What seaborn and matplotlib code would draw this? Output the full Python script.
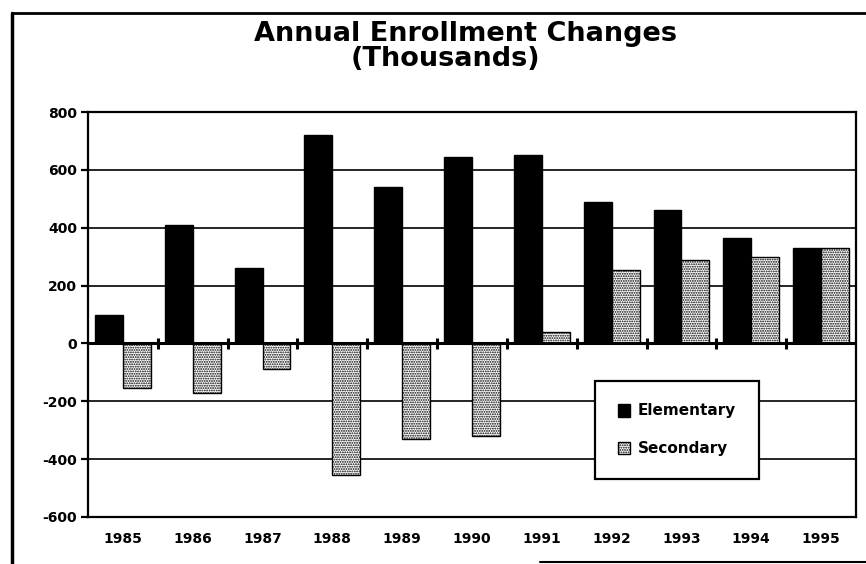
import numpy as np
import pandas as pd
import matplotlib
matplotlib.use("Agg")
import matplotlib.pyplot as plt
from matplotlib.lines import Line2D
import seaborn as sns

# data (thousands)
years = ["1985", "1986", "1987", "1988", "1989", "1990",
         "1991", "1992", "1993", "1994", "1995"]
elementary = [100, 410, 260, 720, 540, 645, 650, 490, 460, 365, 330]
secondary = [-155, -170, -90, -455, -330, -320, 40, 255, 290, 300, 330]
levels = ["Elementary", "Secondary"]
y_ticks = [-600, -400, -200, 0, 200, 400, 600, 800]

df = pd.DataFrame({
    "year": years * 2,
    "value": elementary + secondary,
    "level": [levels[0]] * len(years) + [levels[1]] * len(years),
})

sns.set_style("white")
plt.rcParams["axes.unicode_minus"] = False
plt.rcParams["hatch.linewidth"] = 0.9
plt.rcParams["hatch.color"] = "black"
plt.rcParams["text.color"] = "black"

fig = plt.figure(figsize=(8.66, 5.64), dpi=100)
ax = fig.add_axes([88 / 866, 47 / 564, 768 / 866, 405 / 564])

sns.barplot(data=df, x="year", y="value", hue="level", ax=ax,
            palette={"Elementary": "black", "Secondary": "white"},
            edgecolor="black", linewidth=1.0, width=0.8, saturation=1,
            legend=False)

# dotted fill for secondary bars
for bar in ax.containers[1]:
    bar.set_hatch(".......")

ax.set_xlim(-0.5, len(years) - 0.5)
ax.set_ylim(-600, 800)
ax.set_yticks(y_ticks)
ax.set_yticklabels([str(v) for v in y_ticks])
ax.set_axisbelow(True)
ax.yaxis.grid(True, color="black", linewidth=1.2)
ax.axhline(0, color="black", linewidth=2.2, zorder=3)

# category separators crossing the zero line
sep = np.arange(len(years)) + 0.5
ax.vlines(sep, -18, 18, color="black", linewidth=2.2, zorder=4)

for s in ax.spines.values():
    s.set_visible(True)
    s.set_color("black")
    s.set_linewidth(1.6)

ax.tick_params(axis="y", left=True, length=5, width=1.6, pad=3,
               labelsize=10, colors="black")
ax.tick_params(axis="x", bottom=False, length=0, pad=11, labelsize=10,
               colors="black")
for lab in ax.get_xticklabels() + ax.get_yticklabels():
    lab.set_fontweight("bold")
    lab.set_family("DejaVu Sans")
ax.set_xlabel("")
ax.set_ylabel("")

leg = ax.legend(handles=[ax.containers[0], ax.containers[1]], labels=levels,
                loc="center", bbox_to_anchor=(0.767, 0.215),
                frameon=True, fancybox=False, framealpha=1,
                edgecolor="black", borderpad=1.5, labelspacing=1.5,
                handlelength=0.8, handleheight=0.9, handletextpad=0.5,
                borderaxespad=0,
                prop={"family": "DejaVu Sans", "weight": "bold", "size": 11})
leg.get_frame().set_linewidth(1.6)
leg.set_zorder(5)

fig.text(465 / 866, 1 - 41 / 564, "Annual Enrollment Changes",
         ha="center", va="baseline", fontsize=19.5, fontweight="bold",
         family="DejaVu Sans", color="black")
fig.text(445 / 866, 1 - 66 / 564, "(Thousands)",
         ha="center", va="baseline", fontsize=19.5, fontweight="bold",
         family="DejaVu Sans", color="black")

# scanned page border
fig.add_artist(Line2D([12 / 866, 12 / 866], [0, 1 - 13 / 564],
                      transform=fig.transFigure, color="black", linewidth=2.5))
fig.add_artist(Line2D([12 / 866, 1], [1 - 13 / 564, 1 - 13 / 564],
                      transform=fig.transFigure, color="black", linewidth=2))
fig.add_artist(Line2D([540 / 866, 1], [2 / 564, 2 / 564],
                      transform=fig.transFigure, color="black", linewidth=1.5))

fig.savefig("out.png", dpi=100)
